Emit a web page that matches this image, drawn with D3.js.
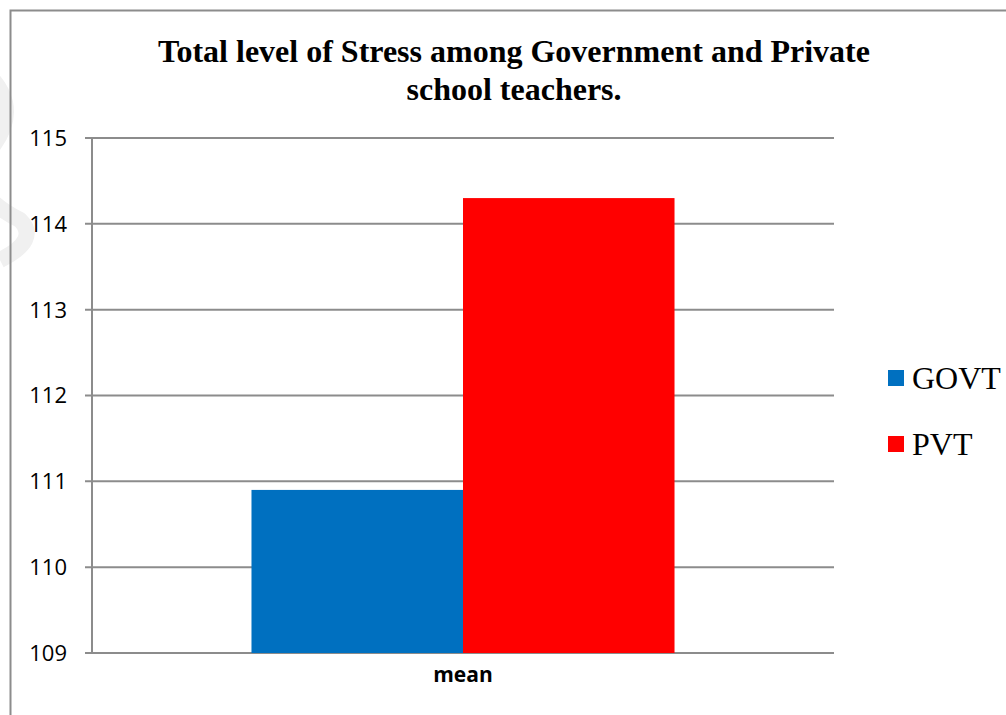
<!DOCTYPE html>
<html>
<head>
<meta charset="utf-8">
<script src="https://cdn.jsdelivr.net/npm/d3@7"></script>
<style>
  html, body { margin: 0; padding: 0; background: #fff; }
  svg { display: block; }
</style>
</head>
<body>
<svg id="chart" width="1006" height="715"></svg>
<script>
// Mean total stress score by school type
const categories = ["mean"];
const seriesNames = ["GOVT", "PVT"];
const govtValues = [110.9];
const pvtValues = [114.3];
const seriesColors = ["#0070C0", "#FF0000"];
const yTicks = [109, 110, 111, 112, 113, 114, 115];
const titleLines = ["Total level of Stress among Government and Private", "school teachers."];

const svg = d3.select("#chart");
const W = 1006, H = 715;

// faint background mark on the left margin
svg.append("path")
  .attr("d", "M -30 60 Q 30 100 -10 150 Q -40 190 20 220 Q 40 240 0 260")
  .attr("fill", "none")
  .attr("stroke", "#f0f0f0")
  .attr("stroke-width", 16);

// chart frame
svg.append("rect")
  .attr("x", 10.5).attr("y", 10.5)
  .attr("width", W + 20).attr("height", H + 20)
  .attr("fill", "none")
  .attr("stroke", "#8c8c8c")
  .attr("stroke-width", 2);

const plot = { left: 92, right: 834, top: 138, bottom: 653 };

const x0 = d3.scaleBand()
  .domain(categories)
  .range([plot.left, plot.right])
  .paddingInner(0)
  .paddingOuter(0.377);

const x1 = d3.scaleBand()
  .domain(seriesNames)
  .range([0, x0.bandwidth()]);

const y = d3.scaleLinear()
  .domain([109, 115])
  .range([plot.bottom, plot.top]);

// gridlines
svg.append("g")
  .selectAll("line")
  .data(yTicks)
  .join("line")
  .attr("x1", plot.left - 7)
  .attr("x2", plot.right)
  .attr("y1", d => y(d))
  .attr("y2", d => y(d))
  .attr("stroke", "#8c8c8c")
  .attr("stroke-width", 2);

// y axis line
svg.append("line")
  .attr("x1", plot.left).attr("x2", plot.left)
  .attr("y1", plot.top).attr("y2", plot.bottom)
  .attr("stroke", "#8c8c8c")
  .attr("stroke-width", 2);

// y tick labels
svg.append("g")
  .selectAll("text")
  .data(yTicks)
  .join("text")
  .attr("x", 67)
  .attr("y", d => y(d))
  .attr("dy", "0.36em")
  .attr("text-anchor", "end")
  .attr("font-family", "'Open Sans', 'Liberation Sans', sans-serif")
  .attr("font-size", 22)
  .attr("fill", "#000")
  .text(d => d);

// bars
const rows = categories.map((c, i) => ({
  category: c,
  values: [
    { name: seriesNames[0], value: govtValues[i], color: seriesColors[0] },
    { name: seriesNames[1], value: pvtValues[i], color: seriesColors[1] }
  ]
}));

const groups = svg.append("g")
  .selectAll("g")
  .data(rows)
  .join("g")
  .attr("transform", d => `translate(${x0(d.category)},0)`);

groups.selectAll("rect")
  .data(d => d.values)
  .join("rect")
  .attr("x", d => x1(d.name))
  .attr("width", x1.bandwidth())
  .attr("y", d => y(d.value))
  .attr("height", d => y.range()[0] - y(d.value))
  .attr("fill", d => d.color);

// category label
svg.append("g")
  .selectAll("text")
  .data(categories)
  .join("text")
  .attr("x", d => x0(d) + x0.bandwidth() / 2)
  .attr("y", 682)
  .attr("text-anchor", "middle")
  .attr("font-family", "'Open Sans', 'Liberation Sans', sans-serif")
  .attr("font-weight", "bold")
  .attr("font-size", 21)
  .attr("fill", "#000")
  .text(d => d);

// title
svg.append("g")
  .selectAll("text")
  .data(titleLines)
  .join("text")
  .attr("x", 514)
  .attr("y", (d, i) => 62 + i * 38)
  .attr("text-anchor", "middle")
  .attr("font-family", "'Liberation Serif', 'Times New Roman', serif")
  .attr("font-weight", "bold")
  .attr("font-size", 32)
  .attr("fill", "#000")
  .text(d => d);

// legend
const legend = svg.append("g")
  .selectAll("g")
  .data(seriesNames)
  .join("g")
  .attr("transform", (d, i) => `translate(888,${370 + i * 66})`);

legend.append("rect")
  .attr("width", 16).attr("height", 16)
  .attr("fill", (d, i) => seriesColors[i]);

legend.append("text")
  .attr("x", 24)
  .attr("y", 19)
  .attr("font-family", "'Liberation Serif', 'Times New Roman', serif")
  .attr("font-size", 32)
  .attr("fill", "#000")
  .text(d => d);
</script>
</body>
</html>
